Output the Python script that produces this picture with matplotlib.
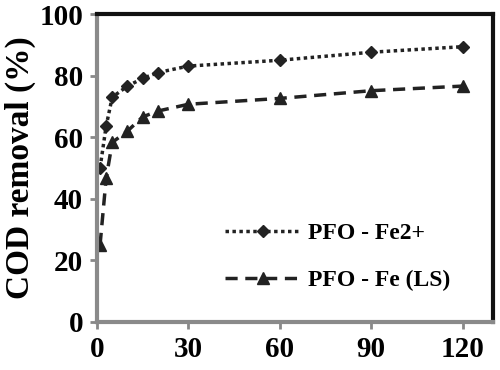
import matplotlib
matplotlib.use("Agg")
import matplotlib.pyplot as plt

# reaction time (min) and COD removal (%)
time_fe2 = [1, 3, 5, 10, 15, 20, 30, 60, 90, 120]
cod_fe2 = [50, 63.6, 73, 76.6, 79.1, 81, 83.1, 85, 87.6, 89.4]

time_ls = [1, 3, 5, 10, 15, 20, 30, 60, 90, 120]
cod_ls = [25, 46.6, 58.3, 62, 66.6, 68.5, 70.7, 72.6, 75.1, 76.6]

labels = ["PFO - Fe2+", "PFO - Fe (LS)"]
xticks = [0, 30, 60, 90, 120]
yticks = [0, 20, 40, 60, 80, 100]

plt.rcParams['font.family'] = ['Liberation Serif', 'DejaVu Serif']
plt.rcParams['font.weight'] = 'bold'

fig = plt.figure(figsize=(5, 3.7), dpi=100)
ax = fig.add_axes([0.194, 0.130, 0.792, 0.832])

ax.plot(time_fe2, cod_fe2, color='#222222', linestyle=(0, (1, 1)), lw=2.5,
        marker='D', markersize=6.5, label=labels[0])
ax.plot(time_ls, cod_ls, color='#222222', linestyle=(0, (3.5, 2.2)), lw=2.5,
        marker='^', markersize=8.5, label=labels[1])

ax.set_xlim(0, 130)
ax.set_ylim(0, 100)
ax.set_xticks(xticks)
ax.set_yticks(yticks)
ax.tick_params(axis='both', which='major', labelsize=21, length=5, width=2,
               color='#888888', direction='out', pad=5)
for lab in ax.get_xticklabels() + ax.get_yticklabels():
    lab.set_fontweight('bold')

ax.set_ylabel("COD removal (%)", fontsize=24, fontweight='bold', labelpad=2)

for side in ['left', 'bottom']:
    ax.spines[side].set_color('#8a8a8a')
    ax.spines[side].set_linewidth(3)
for side in ['top', 'right']:
    ax.spines[side].set_color('#111111')
    ax.spines[side].set_linewidth(3)

leg = ax.legend(loc='lower left', bbox_to_anchor=(0.27, 0.03), frameon=False,
                prop={'size': 17, 'weight': 'bold'}, handlelength=3.2,
                labelspacing=1.1, handletextpad=0.3)

fig.savefig("out.png", dpi=100)
